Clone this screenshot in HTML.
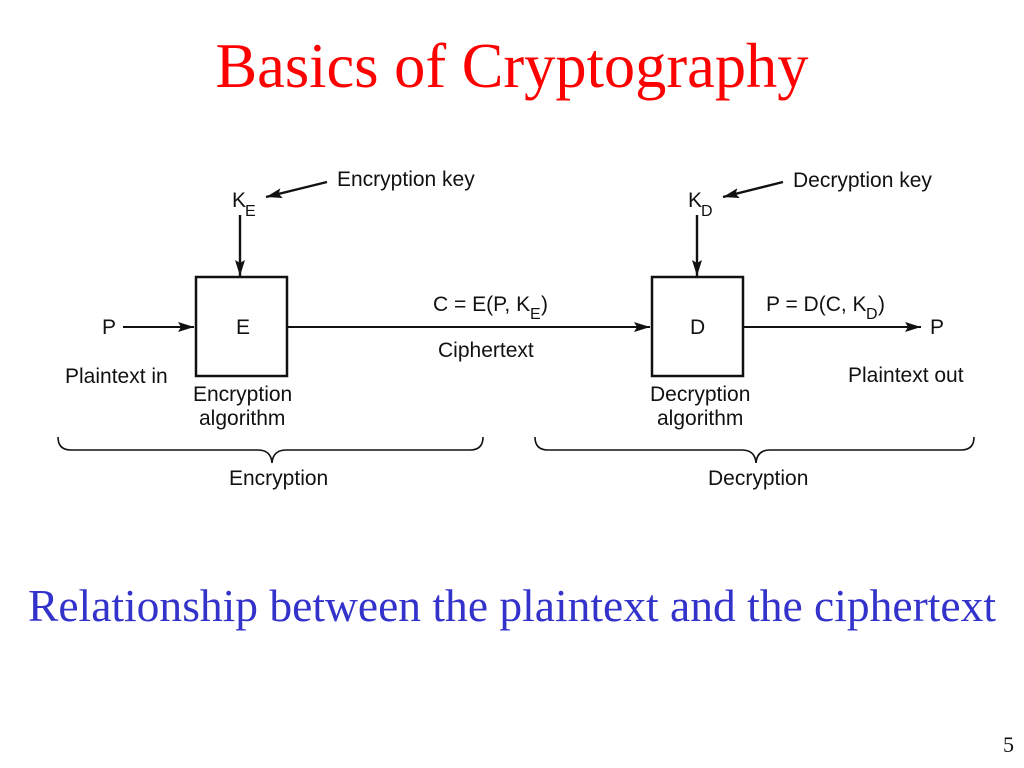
<!DOCTYPE html>
<html>
<head>
<meta charset="utf-8">
<style>
  html, body { margin: 0; padding: 0; background: #fff; }
  body { width: 1024px; height: 768px; overflow: hidden; }
  svg { display: block; }
  .s { font-family: "Liberation Sans", Arial, sans-serif; font-size: 21px; fill: #111; }
  .sub { font-family: "Liberation Sans", Arial, sans-serif; font-size: 16px; fill: #111; }
</style>
</head>
<body>
<svg width="1024" height="768" viewBox="0 0 1024 768" xmlns="http://www.w3.org/2000/svg">
  <defs>
    <marker id="ah" markerUnits="userSpaceOnUse" markerWidth="18" markerHeight="12" refX="16" refY="6" orient="auto">
      <path d="M0,1 L16,6 L0,11 L3,6 Z" fill="#111"/>
    </marker>
  </defs>

  <!-- Title -->
  <text x="512" y="87" text-anchor="middle" textLength="593" lengthAdjust="spacingAndGlyphs"
        style="font-family:'Liberation Serif','Times New Roman',serif;font-size:63px;fill:#ff0000;">Basics of Cryptography</text>

  <!-- Boxes -->
  <rect x="196" y="277" width="91" height="99" fill="none" stroke="#111" stroke-width="2.5"/>
  <rect x="652" y="277" width="91" height="99" fill="none" stroke="#111" stroke-width="2.5"/>

  <!-- Arrows -->
  <line x1="123" y1="327" x2="194" y2="327" stroke="#111" stroke-width="2" marker-end="url(#ah)"/>
  <line x1="287" y1="327" x2="650" y2="327" stroke="#111" stroke-width="2" marker-end="url(#ah)"/>
  <line x1="743" y1="327" x2="921" y2="327" stroke="#111" stroke-width="2" marker-end="url(#ah)"/>
  <line x1="240" y1="215" x2="240" y2="276" stroke="#111" stroke-width="2.4" marker-end="url(#ah)"/>
  <line x1="697" y1="215" x2="697" y2="276" stroke="#111" stroke-width="2.4" marker-end="url(#ah)"/>
  <line x1="327" y1="182" x2="266" y2="197" stroke="#111" stroke-width="2.4" marker-end="url(#ah)"/>
  <line x1="783" y1="182" x2="723" y2="197" stroke="#111" stroke-width="2.4" marker-end="url(#ah)"/>

  <!-- Braces -->
  <path d="M58,437 Q58,450 71,450 L258,450 Q271,450 272,463 Q273,450 286,450 L470,450 Q483,450 483,437"
        fill="none" stroke="#111" stroke-width="1.6"/>
  <path d="M535,437 Q535,450 548,450 L742,450 Q755,450 756,463 Q757,450 770,450 L961,450 Q974,450 974,437"
        fill="none" stroke="#111" stroke-width="1.6"/>

  <!-- Key labels -->
  <text class="s" x="337" y="186">Encryption key</text>
  <text class="s" x="232" y="207">K</text><text class="sub" x="245" y="216">E</text>
  <text class="s" x="793" y="187">Decryption key</text>
  <text class="s" x="688" y="207">K</text><text class="sub" x="701" y="216">D</text>

  <!-- Middle row -->
  <text class="s" x="102" y="334">P</text>
  <text class="s" x="236" y="334">E</text>
  <text class="s" x="690" y="334">D</text>
  <text class="s" x="930" y="334">P</text>

  <text class="s" x="433" y="311">C = E(P, K</text><text class="sub" x="530" y="319">E</text><text class="s" x="541" y="311">)</text>
  <text class="s" x="438" y="357">Ciphertext</text>
  <text class="s" x="766" y="311">P = D(C, K</text><text class="sub" x="866" y="319">D</text><text class="s" x="878" y="311">)</text>

  <text class="s" x="65" y="383">Plaintext in</text>
  <text class="s" x="848" y="382">Plaintext out</text>

  <text class="s" x="193" y="401">Encryption</text>
  <text class="s" x="199" y="425">algorithm</text>
  <text class="s" x="650" y="401">Decryption</text>
  <text class="s" x="657" y="425">algorithm</text>

  <text class="s" x="229" y="485">Encryption</text>
  <text class="s" x="708" y="485">Decryption</text>

  <!-- Caption -->
  <text x="28" y="621" textLength="968" lengthAdjust="spacingAndGlyphs"
        style="font-family:'Liberation Serif','Times New Roman',serif;font-size:46px;fill:#3333cc;">Relationship between the plaintext and the ciphertext</text>

  <!-- Page number -->
  <text x="1003" y="752" style="font-family:'Liberation Serif','Times New Roman',serif;font-size:22px;fill:#111;">5</text>
</svg>
</body>
</html>
